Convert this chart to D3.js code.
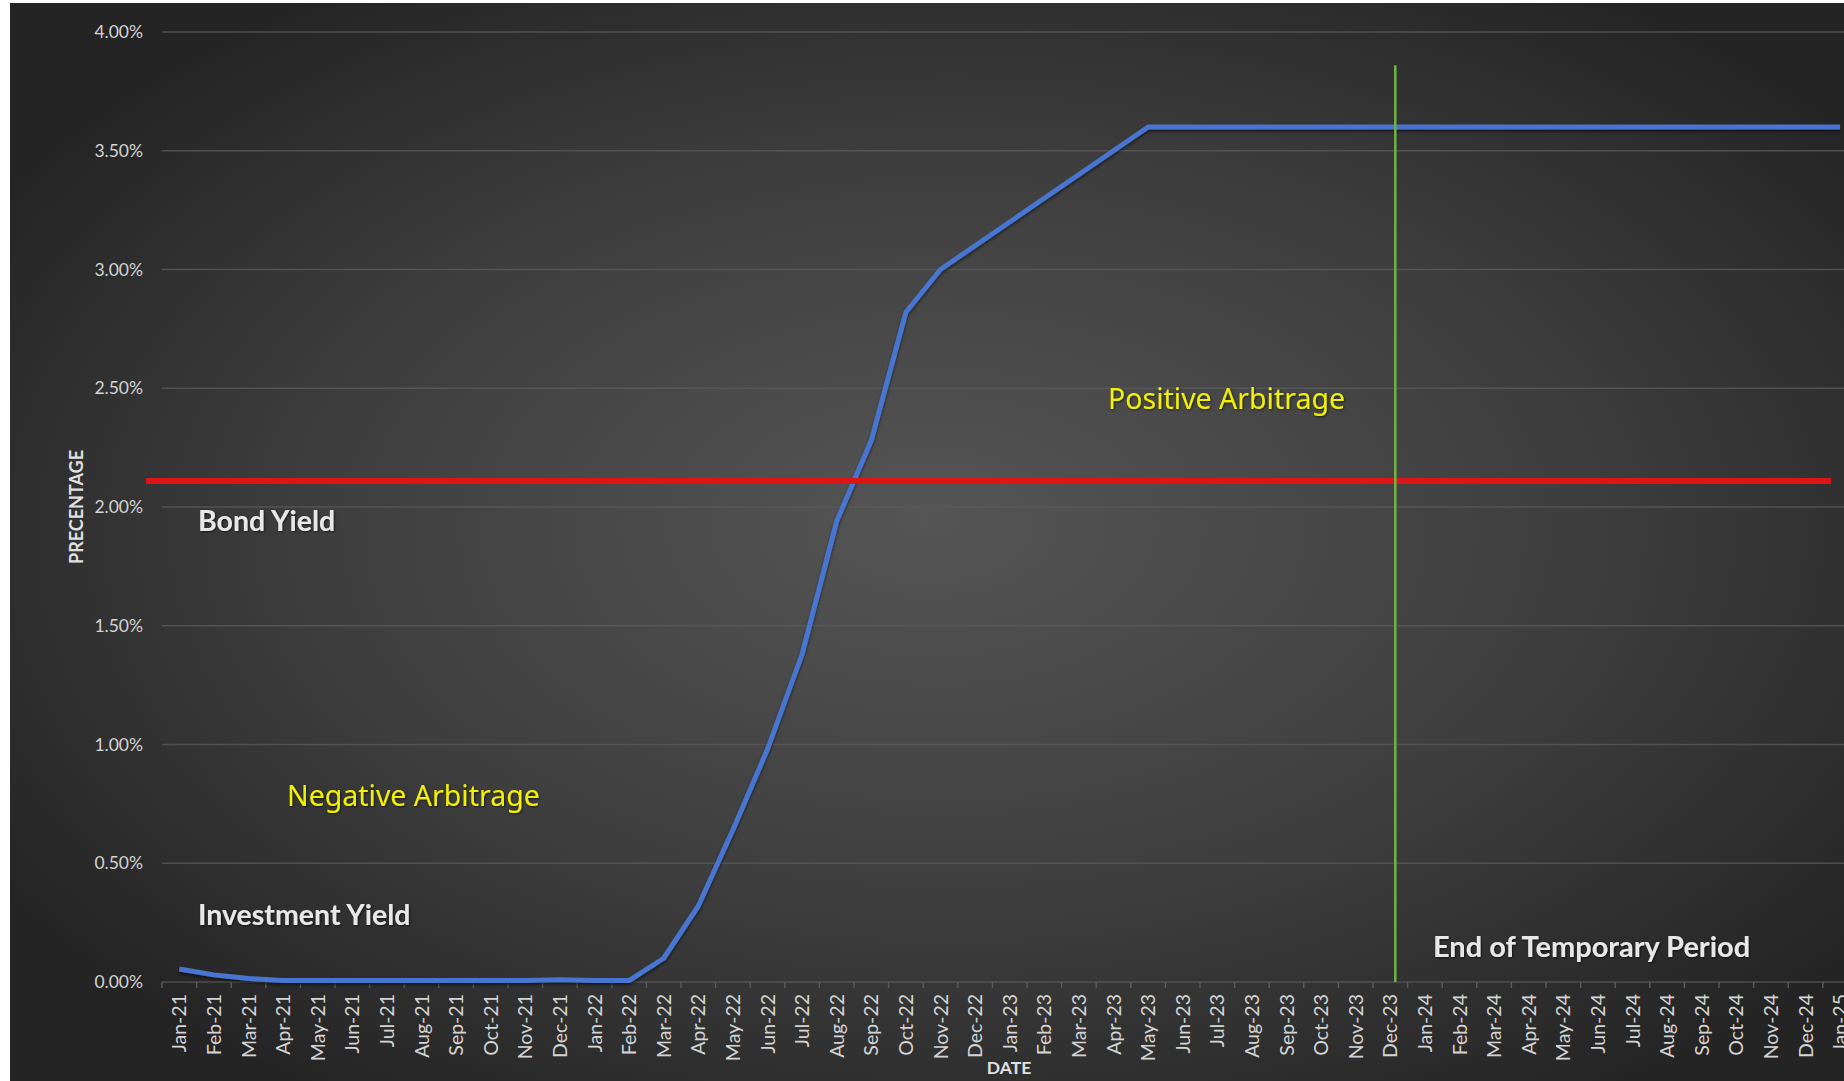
<!DOCTYPE html>
<html>
<head>
<meta charset="utf-8">
<script src="https://cdn.jsdelivr.net/npm/d3@7"></script>
<style>
  html, body { margin: 0; padding: 0; background: #ffffff; overflow: hidden; }
  svg { display: block; }
</style>
</head>
<body>
<svg id="chart" width="1844" height="1081"></svg>
<script>
// Monthly categories on the date axis
const months = [
  "Jan-21","Feb-21","Mar-21","Apr-21","May-21","Jun-21","Jul-21","Aug-21","Sep-21","Oct-21","Nov-21","Dec-21",
  "Jan-22","Feb-22","Mar-22","Apr-22","May-22","Jun-22","Jul-22","Aug-22","Sep-22","Oct-22","Nov-22","Dec-22",
  "Jan-23","Feb-23","Mar-23","Apr-23","May-23","Jun-23","Jul-23","Aug-23","Sep-23","Oct-23","Nov-23","Dec-23",
  "Jan-24","Feb-24","Mar-24","Apr-24","May-24","Jun-24","Jul-24","Aug-24","Sep-24","Oct-24","Nov-24","Dec-24",
  "Jan-25"
];

// Investment yield, in percent, one value per month
const investmentYield = [
  0.055, 0.030, 0.015, 0.006, 0.006, 0.006, 0.006, 0.006, 0.006, 0.006, 0.006, 0.010,
  0.006, 0.006, 0.10, 0.32, 0.64, 0.98, 1.38, 1.94, 2.28, 2.82, 3.00, 3.10,
  3.20, 3.30, 3.40, 3.50, 3.60, 3.60, 3.60, 3.60, 3.60, 3.60, 3.60, 3.60,
  3.60, 3.60, 3.60, 3.60, 3.60, 3.60, 3.60, 3.60, 3.60, 3.60, 3.60, 3.60,
  3.60
];

// Bond yield, in percent (flat)
const bondYield = [2.11];

// Percentage ticks on the value axis
const yTicks = [0, 0.5, 1.0, 1.5, 2.0, 2.5, 3.0, 3.5, 4.0];

// Month that closes the temporary period, and the top of its marker line (percent)
const endOfTemporaryPeriod = ["Dec-23"];
const markerTop = [3.86];

const W = 1844, H = 1081;
const plotLeft = 162, bandW = 34.6, plotBottom = 982, plotTop = 32;

const svg = d3.select("#chart");
const defs = svg.append("defs");

// Dark backdrop, lighter toward the middle
const grad = defs.append("radialGradient")
  .attr("id", "bg")
  .attr("cx", 0.52).attr("cy", 0.5).attr("r", 0.62)
  .attr("fx", 0.5).attr("fy", 0.48);
grad.append("stop").attr("offset", "0%").attr("stop-color", "#555555");
grad.append("stop").attr("offset", "55%").attr("stop-color", "#3e3e3e");
grad.append("stop").attr("offset", "100%").attr("stop-color", "#242424");

const shadow = defs.append("filter").attr("id", "lineShadow")
  .attr("x", "-5%").attr("y", "-5%").attr("width", "110%").attr("height", "110%");
shadow.append("feDropShadow").attr("dx", 0).attr("dy", 2).attr("stdDeviation", 1.5)
  .attr("flood-color", "#000").attr("flood-opacity", 0.55);

const textShadow = defs.append("filter").attr("id", "textShadow")
  .attr("x", "-5%").attr("y", "-20%").attr("width", "110%").attr("height", "140%");
textShadow.append("feDropShadow").attr("dx", 1).attr("dy", 1).attr("stdDeviation", 1)
  .attr("flood-color", "#000").attr("flood-opacity", 0.6);

svg.append("rect")
  .attr("x", 10).attr("y", 3).attr("width", W - 10).attr("height", H - 3)
  .attr("fill", "url(#bg)");

// Scales
const x = d3.scaleBand()
  .domain(months)
  .range([plotLeft, plotLeft + months.length * bandW])
  .padding(0);

const y = d3.scaleLinear()
  .domain([0, 4])
  .range([plotBottom, plotTop]);

const cx = d => x(d) + x.bandwidth() / 2;

// Horizontal gridlines
svg.append("g").attr("class", "grid")
  .selectAll("line")
  .data(yTicks)
  .join("line")
  .attr("x1", plotLeft).attr("x2", W)
  .attr("y1", d => y(d)).attr("y2", d => y(d))
  .attr("stroke", "#5c5c5c")
  .attr("stroke-opacity", 0.75)
  .attr("stroke-width", 1.6);

// Value axis labels
const yAxis = svg.append("g")
  .attr("transform", `translate(${plotLeft},0)`)
  .call(d3.axisLeft(y).tickValues(yTicks).tickSize(0).tickPadding(19)
    .tickFormat(d => d.toFixed(2) + "%"));
yAxis.select(".domain").remove();
yAxis.selectAll("text")
  .attr("fill", "#d4d4d4")
  .style("font-family", "Lato, 'Open Sans', sans-serif")
  .style("font-size", "17.5px");

// Date axis: labels centred on each month, tick marks on the month boundaries
const xAxis = svg.append("g")
  .attr("transform", `translate(0,${plotBottom})`)
  .call(d3.axisBottom(x).tickSize(0));
xAxis.select(".domain").remove();
xAxis.selectAll("text")
  .attr("transform", "rotate(-90)")
  .attr("x", -12).attr("y", 0).attr("dy", "0.36em")
  .attr("text-anchor", "end")
  .attr("fill", "#d4d4d4")
  .style("font-family", "Lato, 'Open Sans', sans-serif")
  .style("font-size", "19.5px");

svg.append("g")
  .selectAll("line")
  .data(months)
  .join("line")
  .attr("x1", d => x(d)).attr("x2", d => x(d))
  .attr("y1", plotBottom).attr("y2", plotBottom + 6)
  .attr("stroke", "#5c5c5c").attr("stroke-width", 1.4);

// Investment yield line
const line = d3.line()
  .x((d, i) => cx(months[i]))
  .y(d => y(d));

svg.append("path")
  .datum(investmentYield)
  .attr("d", line)
  .attr("fill", "none")
  .attr("stroke", "#4675cf")
  .attr("stroke-width", 5)
  .attr("stroke-linejoin", "round")
  .attr("filter", "url(#lineShadow)");

// Bond yield line
svg.append("g")
  .selectAll("line")
  .data(bondYield)
  .join("line")
  .attr("x1", plotLeft - 16).attr("x2", W - 13)
  .attr("y1", d => y(d)).attr("y2", d => y(d))
  .attr("stroke", "#dc1616")
  .attr("stroke-width", 6);

// End of temporary period marker
svg.append("g")
  .selectAll("line")
  .data(endOfTemporaryPeriod)
  .join("line")
  .attr("x1", d => cx(d) + 5).attr("x2", d => cx(d) + 5)
  .attr("y1", y(markerTop[0])).attr("y2", plotBottom)
  .attr("stroke", "#70ad47")
  .attr("stroke-width", 2.6);

// Annotations
const notes = [
  { t: "Bond Yield", x: 198, y: 521, c: "#e8e8e8", w: 700, s: 28.5, f: "Lato, sans-serif" },
  { t: "Investment Yield", x: 198, y: 915, c: "#e8e8e8", w: 700, s: 28.5, f: "Lato, sans-serif" },
  { t: "End of Temporary Period", x: 1433, y: 947, c: "#e8e8e8", w: 700, s: 29, f: "Lato, sans-serif" },
  { t: "Negative Arbitrage", x: 287, y: 796, c: "#f2f200", w: 400, s: 28.5, f: "'Noto Sans', sans-serif" },
  { t: "Positive Arbitrage", x: 1108, y: 399, c: "#f2f200", w: 400, s: 28.5, f: "'Noto Sans', sans-serif" }
];
svg.append("g")
  .selectAll("text")
  .data(notes)
  .join("text")
  .attr("x", d => d.x).attr("y", d => d.y)
  .attr("dy", "0.35em")
  .attr("fill", d => d.c)
  .attr("filter", "url(#textShadow)")
  .style("font-family", d => d.f)
  .style("font-weight", d => d.w)
  .style("font-size", d => d.s + "px")
  .text(d => d.t);

// Axis titles
svg.append("text")
  .attr("transform", "translate(77,507) rotate(-90)")
  .attr("text-anchor", "middle").attr("dy", "0.35em")
  .attr("fill", "#e0e0e0")
  .style("font-family", "Lato, sans-serif").style("font-weight", 700).style("font-size", "18px")
  .text("PRECENTAGE");

svg.append("text")
  .attr("x", 1009).attr("y", 1068)
  .attr("text-anchor", "middle").attr("dy", "0.35em")
  .attr("fill", "#e0e0e0")
  .style("font-family", "Lato, sans-serif").style("font-weight", 700).style("font-size", "17.5px")
  .text("DATE");
</script>
</body>
</html>
